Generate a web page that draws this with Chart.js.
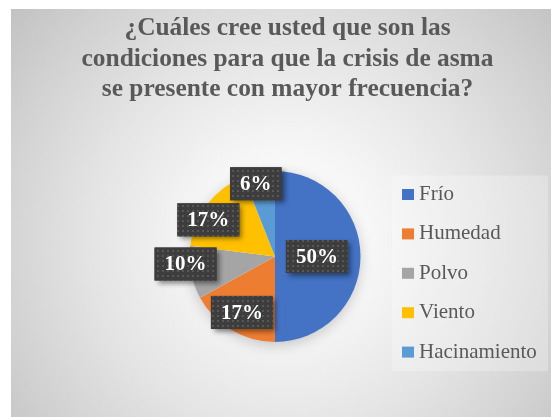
<!DOCTYPE html>
<html lang="es">
<head>
    <meta charset="UTF-8">
    <title>Condiciones de la crisis de asma</title>
    <script src="https://cdn.jsdelivr.net/npm/chart.js@4"></script>
    <style>
        html, body { margin: 0; padding: 0; background: #fff; overflow: hidden; }
        .chart-box {
            position: absolute; left: 11px; top: 9px; width: 553px; height: 408px;
            background: radial-gradient(circle farthest-corner at 50% 56%, #ffffff 0%, #f6f6f6 25%, #e4e4e4 55%, #d2d2d2 80%, #c2c2c2 100%);
        }
        #asmaChart { position: absolute; left: 0; top: 0; }
    </style>
</head>
<body>
    <div class="chart-box"><canvas id="asmaChart" width="553" height="408"></canvas></div>

    <script>
        // Data
        const categories = ["Frío", "Humedad", "Polvo", "Viento", "Hacinamiento"];
        const percentages = [50, 17, 10, 17, 6];
        const titleLines = [
            "¿Cuáles cree usted que son las",
            "condiciones para que la crisis de asma",
            "se presente con mayor frecuencia?"
        ];

        const sliceColors = ["#4472C4", "#ED7D31", "#A5A5A5", "#FFC000", "#5B9BD5"];
        const serif = "'Liberation Serif', 'Times New Roman', serif";
        const textGray = "#595959";

        // where each label box sits: fraction of the radius, and a small turn (degrees) off the slice middle
        const labelPlacement = [
            { dist: 0.49, turn: 0 },
            { dist: 0.76, turn: 0 },
            { dist: 1.05, turn: 6 },
            { dist: 0.89, turn: -9 },
            { dist: 0.88, turn: -4 }
        ];

        // dotted dark fill of the label boxes
        const dots = document.createElement("canvas");
        dots.width = dots.height = 5;
        const dctx = dots.getContext("2d");
        dctx.fillStyle = "#3d3d3d";
        dctx.fillRect(0, 0, 5, 5);
        dctx.fillStyle = "#575757";
        dctx.fillRect(1, 1, 2, 2);

        const chartTitle = {
            id: "chartTitle",
            afterDraw(chart) {
                const ctx = chart.ctx;
                ctx.save();
                ctx.font = "bold 25.4px " + serif;
                ctx.fillStyle = textGray;
                ctx.textAlign = "center";
                ctx.textBaseline = "middle";
                titleLines.forEach((line, i) => {
                    ctx.fillText(line, chart.width / 2, 19.7 + i * 30.3);
                });
                ctx.restore();
            }
        };

        const pieShadow = {
            id: "pieShadow",
            beforeDatasetsDraw(chart) {
                const arc = chart.getDatasetMeta(0).data[0];
                const ctx = chart.ctx;
                ctx.save();
                ctx.shadowColor = "rgba(0, 0, 0, 0.22)";
                ctx.shadowBlur = 14;
                ctx.shadowOffsetY = 3;
                ctx.fillStyle = "#ffffff";
                ctx.beginPath();
                ctx.arc(arc.x, arc.y, arc.outerRadius - 1, 0, Math.PI * 2);
                ctx.fill();
                ctx.restore();
            }
        };

        const labelBoxes = {
            id: "labelBoxes",
            afterDatasetsDraw(chart) {
                const ctx = chart.ctx;
                const pattern = ctx.createPattern(dots, "repeat");
                ctx.save();
                ctx.font = "bold 21px " + serif;
                ctx.textAlign = "center";
                ctx.textBaseline = "middle";
                chart.getDatasetMeta(0).data.forEach((arc, i) => {
                    const place = labelPlacement[i];
                    const angle = (arc.startAngle + arc.endAngle) / 2 + place.turn * Math.PI / 180;
                    const r = arc.outerRadius * place.dist;
                    const cx = arc.x + Math.cos(angle) * r;
                    const cy = arc.y + Math.sin(angle) * r;
                    const text = percentages[i] + "%";
                    const w = ctx.measureText(text).width + 20;
                    const h = 33;
                    const x = cx - w / 2, y = cy - h / 2;

                    ctx.save();
                    ctx.shadowColor = "rgba(0, 0, 0, 0.45)";
                    ctx.shadowBlur = 5;
                    ctx.shadowOffsetX = 3;
                    ctx.shadowOffsetY = 3;
                    ctx.fillStyle = "#3d3d3d";
                    ctx.fillRect(x, y, w, h);
                    ctx.restore();

                    ctx.fillStyle = pattern;
                    ctx.fillRect(x, y, w, h);
                    ctx.fillStyle = "#ffffff";
                    ctx.fillText(text, cx, cy + 1);
                });
                ctx.restore();
            }
        };

        const sideLegend = {
            id: "sideLegend",
            afterDraw(chart) {
                const ctx = chart.ctx;
                const boxX = 391, firstY = 185.5, step = 39.4;
                ctx.save();
                ctx.fillStyle = "rgba(255, 255, 255, 0.25)";
                ctx.fillRect(boxX - 10, firstY - 19, 156, 4 * step + 38);
                ctx.font = "21px " + serif;
                ctx.textBaseline = "middle";
                ctx.textAlign = "left";
                categories.forEach((name, i) => {
                    const y = firstY + i * step;
                    ctx.fillStyle = sliceColors[i];
                    ctx.fillRect(boxX, y - 5.5, 12, 11);
                    ctx.fillStyle = textGray;
                    ctx.fillText(name, boxX + 17, y);
                });
                ctx.restore();
            }
        };

        const ctx = document.getElementById("asmaChart").getContext("2d");
        const chart = new Chart(ctx, {
            type: "pie",
            data: {
                labels: categories,
                datasets: [{
                    data: percentages,
                    backgroundColor: sliceColors,
                    borderWidth: 0,
                    radius: 85.5
                }]
            },
            options: {
                responsive: false,
                animation: false,
                layout: { padding: { top: 105, bottom: 18, left: 0, right: 25 } },
                plugins: {
                    legend: { display: false },
                    title: { display: false },
                    tooltip: { enabled: false }
                }
            },
            plugins: [pieShadow, labelBoxes, chartTitle, sideLegend]
        });
    </script>
</body>
</html>
